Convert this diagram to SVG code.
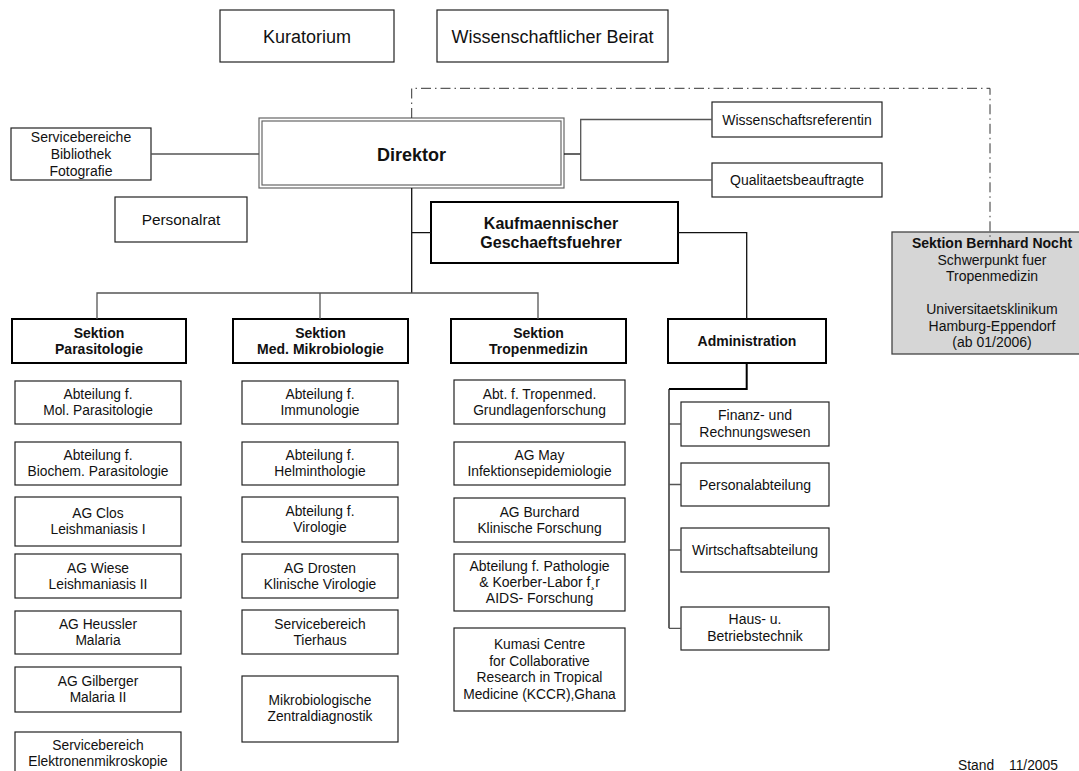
<svg xmlns="http://www.w3.org/2000/svg" width="1079" height="771" viewBox="0 0 1079 771">
<style>
text{font-family:"Liberation Sans",Arial,sans-serif;fill:#111;text-anchor:middle}
.b{fill:#fff;stroke:#222;stroke-width:1.2}
.s{fill:#fff;stroke:#000;stroke-width:2}
.f13{font-size:13.8px}
.f14{font-size:14px}
.bold{font-weight:bold}
.con{fill:none;stroke:#555;stroke-width:1.3}
.conk{fill:none;stroke:#111;stroke-width:1.3}
.dash{fill:none;stroke:#333;stroke-width:1;stroke-dasharray:10 4 1.5 4}
</style>
<rect width="1079" height="771" fill="#fff"/>
<g id="kuratorium"><rect class="b" x="220" y="10" width="174" height="52"/><text x="307" y="42.5" style="font-size:18px">Kuratorium</text></g>
<g id="beirat"><rect class="b" x="437" y="10" width="231" height="52"/><text x="552.5" y="42.5" style="font-size:18px">Wissenschaftlicher Beirat</text></g>
<g id="servicebereiche"><rect class="b" x="11" y="128" width="140" height="52"/><text class="f14" x="81" y="141.5">Servicebereiche</text><text class="f14" x="81" y="158.5">Bibliothek</text><text class="f14" x="81" y="175.5">Fotografie</text></g>
<g id="direktor"><rect x="259" y="118" width="305" height="70" fill="#fff" stroke="#666" stroke-width="1.2"/><rect x="262" y="121" width="299" height="64" fill="none" stroke="#666" stroke-width="1.2"/><text class="bold" x="411.5" y="160.5" style="font-size:18px">Direktor</text></g>
<g id="personalrat"><rect class="b" x="115" y="197" width="132" height="45"/><text x="181" y="225" style="font-size:15.4px">Personalrat</text></g>
<g id="wissref"><rect class="b" x="712" y="102" width="170" height="35"/><text class="f14" x="797" y="124.5">Wissenschaftsreferentin</text></g>
<g id="qualitaet"><rect class="b" x="712" y="163" width="170" height="34"/><text class="f14" x="797" y="185">Qualitaetsbeauftragte</text></g>
<g id="kaufm"><rect class="s" x="431" y="202" width="247" height="61"/><text class="bold" x="551" y="228.5" style="font-size:16px">Kaufmaennischer</text><text class="bold" x="551" y="247.5" style="font-size:16px">Geschaeftsfuehrer</text></g>
<g id="nocht"><rect x="892" y="232" width="200" height="122" fill="#d6d6d6" stroke="#444" stroke-width="1.3"/><text class="f14 bold" x="992" y="248">Sektion Bernhard Nocht</text><text class="f14" x="992" y="264.5">Schwerpunkt fuer</text><text class="f14" x="992" y="281">Tropenmedizin</text><text class="f14" x="992" y="314">Universitaetsklinikum</text><text class="f14" x="992" y="330.5">Hamburg-Eppendorf</text><text class="f14" x="992" y="347">(ab 01/2006)</text></g>
<g id="sek-para"><rect class="s" x="12" y="319" width="174" height="44"/><text class="f14 bold" x="99" y="337.5">Sektion</text><text class="f14 bold" x="99" y="354">Parasitologie</text></g>
<g id="sek-mikro"><rect class="s" x="233" y="319" width="175" height="44"/><text class="f14 bold" x="320.5" y="337.5">Sektion</text><text class="f14 bold" x="320.5" y="354">Med. Mikrobiologie</text></g>
<g id="sek-tropen"><rect class="s" x="451" y="319" width="175" height="44"/><text class="f14 bold" x="538.5" y="337.5">Sektion</text><text class="f14 bold" x="538.5" y="354">Tropenmedizin</text></g>
<g id="sek-admin"><rect class="s" x="668" y="319" width="158" height="44"/><text class="f14 bold" x="747" y="346">Administration</text></g>
<g id="p1"><rect class="b" x="15" y="381" width="166" height="43"/><text class="f13" x="98" y="399">Abteilung f.</text><text class="f13" x="98" y="415">Mol. Parasitologie</text></g>
<g id="p2"><rect class="b" x="15" y="442" width="166" height="43"/><text class="f13" x="98" y="460">Abteilung f.</text><text class="f13" x="98" y="476">Biochem. Parasitologie</text></g>
<g id="p3"><rect class="b" x="15" y="497" width="166" height="49"/><text class="f13" x="98" y="518">AG Clos</text><text class="f13" x="98" y="534">Leishmaniasis I</text></g>
<g id="p4"><rect class="b" x="15" y="554" width="166" height="44"/><text class="f13" x="98" y="573">AG Wiese</text><text class="f13" x="98" y="589">Leishmaniasis II</text></g>
<g id="p5"><rect class="b" x="15" y="611" width="166" height="43"/><text class="f13" x="98" y="629">AG Heussler</text><text class="f13" x="98" y="645">Malaria</text></g>
<g id="p6"><rect class="b" x="15" y="667" width="166" height="45"/><text class="f13" x="98" y="686">AG Gilberger</text><text class="f13" x="98" y="702">Malaria II</text></g>
<g id="p7"><rect class="b" x="15" y="732" width="166" height="45"/><text class="f13" x="98" y="749.5">Servicebereich</text><text class="f13" x="98" y="766">Elektronenmikroskopie</text></g>
<g id="m1"><rect class="b" x="242" y="381" width="156" height="43"/><text class="f13" x="320" y="399">Abteilung f.</text><text class="f13" x="320" y="415">Immunologie</text></g>
<g id="m2"><rect class="b" x="242" y="442" width="156" height="43"/><text class="f13" x="320" y="460">Abteilung f.</text><text class="f13" x="320" y="476">Helminthologie</text></g>
<g id="m3"><rect class="b" x="242" y="497" width="156" height="45"/><text class="f13" x="320" y="516">Abteilung f.</text><text class="f13" x="320" y="532">Virologie</text></g>
<g id="m4"><rect class="b" x="242" y="554" width="156" height="44"/><text class="f13" x="320" y="573">AG Drosten</text><text class="f13" x="320" y="589">Klinische Virologie</text></g>
<g id="m5"><rect class="b" x="242" y="610" width="156" height="44"/><text class="f13" x="320" y="629">Servicebereich</text><text class="f13" x="320" y="645">Tierhaus</text></g>
<g id="m6"><rect class="b" x="242" y="676" width="156" height="66"/><text class="f13" x="320" y="704.5">Mikrobiologische</text><text class="f13" x="320" y="720.5">Zentraldiagnostik</text></g>
<g id="t1"><rect class="b" x="454" y="380" width="171" height="44"/><text class="f13" x="539.5" y="399">Abt. f. Tropenmed.</text><text class="f13" x="539.5" y="415">Grundlagenforschung</text></g>
<g id="t2"><rect class="b" x="454" y="442" width="171" height="43"/><text class="f13" x="539.5" y="460">AG May</text><text class="f13" x="539.5" y="476">Infektionsepidemiologie</text></g>
<g id="t3"><rect class="b" x="454" y="498" width="171" height="44"/><text class="f13" x="539.5" y="516.5">AG Burchard</text><text class="f13" x="539.5" y="532.5">Klinische Forschung</text></g>
<g id="t4"><rect class="b" x="454" y="554" width="171" height="57"/><text class="f14" x="539.5" y="570.5">Abteilung f. Pathologie</text><text class="f14" x="539.5" y="586.5">&amp; Koerber-Labor f¸r</text><text class="f14" x="539.5" y="602.5">AIDS- Forschung</text></g>
<g id="t5"><rect class="b" x="454" y="628" width="171" height="83"/><text class="f13" x="539.5" y="649">Kumasi Centre</text><text class="f13" x="539.5" y="665.5">for Collaborative</text><text class="f13" x="539.5" y="682">Research in Tropical</text><text class="f13" x="539.5" y="698.5">Medicine (KCCR),Ghana</text></g>
<g id="a1"><rect class="b" x="681" y="402" width="148" height="44"/><text class="f14" x="755" y="420">Finanz- und</text><text class="f14" x="755" y="436.5">Rechnungswesen</text></g>
<g id="a2"><rect class="b" x="681" y="463" width="148" height="43"/><text class="f14" x="755" y="489.5">Personalabteilung</text></g>
<g id="a3"><rect class="b" x="681" y="528" width="148" height="44"/><text class="f14" x="755" y="555">Wirtschaftsabteilung</text></g>
<g id="a4"><rect class="b" x="681" y="607" width="148" height="43"/><text class="f14" x="755" y="624">Haus- u.</text><text class="f14" x="755" y="640.5">Betriebstechnik</text></g>
<g id="stand"><text class="f13" x="958" y="770" style="text-anchor:start">Stand</text><text class="f13" x="1009" y="770" style="text-anchor:start">11/2005</text></g>
<g id="connectors">
<path class="con" d="M151 154H259"/>
<path class="conk" d="M564 154H580.7"/>
<path class="con" d="M712 119.5H580.7V180H712"/>
<path class="conk" d="M411.7 188V293M411.7 232.7H431"/>
<path class="con" d="M97 319V293H538V319M320 293V319"/>
<path class="conk" d="M678 232.7H746.7V319"/>
<path fill="none" stroke="#000" stroke-width="2" d="M746.7 363V389H669"/>
<path class="conk" d="M669 389V628.3"/>
<path class="con" d="M669 424H681M669 484.5H681M669 550H681M669 628.3H681"/>
<path class="dash" d="M411.7 118V88.3H990V246"/>
</g>
</svg>
